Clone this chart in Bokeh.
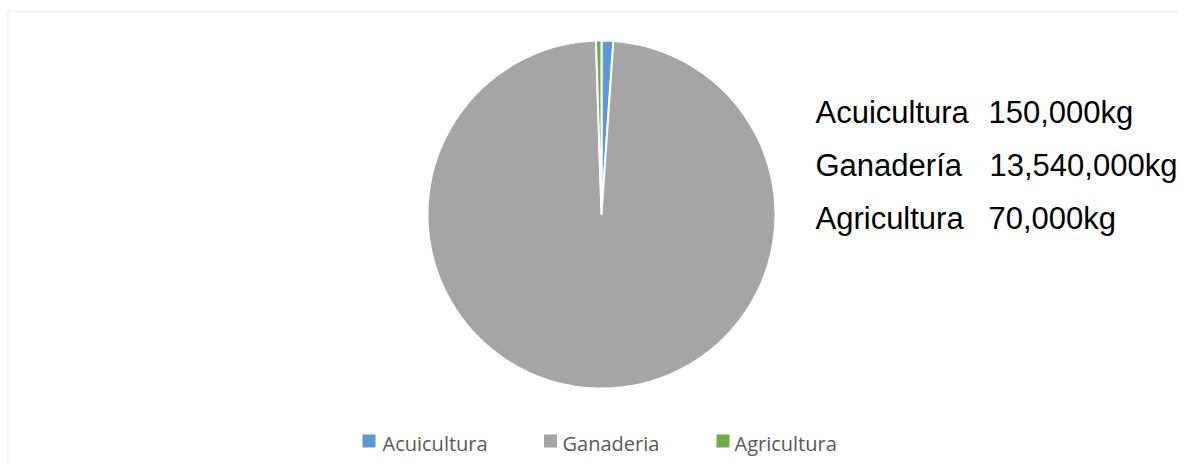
import math
from bokeh.plotting import figure
from bokeh.models import Range1d, ColumnDataSource, BoxAnnotation
from bokeh.core.properties import value
from bokeh.embed import file_html
from bokeh.resources import INLINE

# ---- data ----
categories = ["Acuicultura", "Ganadería", "Agricultura"]
legend_labels = ["Acuicultura", "Ganaderia", "Agricultura"]
amounts_kg = [150000, 13540000, 70000]
amount_labels = ["150,000kg", "13,540,000kg", "70,000kg"]
colors = ["#5B9BD5", "#A5A5A5", "#70AD47"]

W, H = 1178, 464
p = figure(width=W, height=H, output_backend="svg", toolbar_location=None,
           x_range=Range1d(0, W), y_range=Range1d(0, H), min_border=0)
p.axis.visible = False
p.grid.visible = False
p.outline_line_color = None
p.background_fill_color = "white"
p.border_fill_color = "white"

# chart frame (only top and left edges are inside the window)
p.add_layout(BoxAnnotation(left=7.7, right=W + 50, top=H - 11, bottom=-50,
                           fill_alpha=0, line_color="#D9D9D9", line_width=2))

# ---- pie ----
total = sum(amounts_kg)
starts, ends = [], []
acc = 0.0
for v in amounts_kg:
    s = math.pi / 2 - 2 * math.pi * acc / total
    acc += v
    e = math.pi / 2 - 2 * math.pi * acc / total
    starts.append(s)
    ends.append(e)

src = ColumnDataSource(dict(start=starts, end=ends, color=colors,
                            x=[601] * 3, y=[250] * 3))
p.wedge(x="x", y="y", radius=174, radius_units="screen",
        start_angle="start", end_angle="end", direction="clock",
        fill_color="color", line_color="white", line_width=2, source=src)

# ---- text block on the right ----
ys = [352, 299, 246]
p.text(x=[815] * 3, y=ys, text=categories, text_font=value("Liberation Sans"),
       text_font_size="31px", text_color="black", text_baseline="alphabetic")
p.text(x=[988, 989, 988], y=ys, text=amount_labels, text_font=value("Liberation Sans"),
       text_font_size="31px", text_color="black", text_baseline="alphabetic")

# ---- legend ----
sq_x = [368.5, 550, 722.5]
p.rect(x=sq_x, y=[23.5] * 3, width=13, height=13, width_units="screen",
       height_units="screen", fill_color=colors, line_color=None)
p.text(x=[382, 562, 734], y=[21] * 3, text=legend_labels, text_font=value("Open Sans"),
       text_font_size="20px", text_color="#595959", text_baseline="alphabetic")

open("out.html", "w").write(file_html(p, INLINE))
